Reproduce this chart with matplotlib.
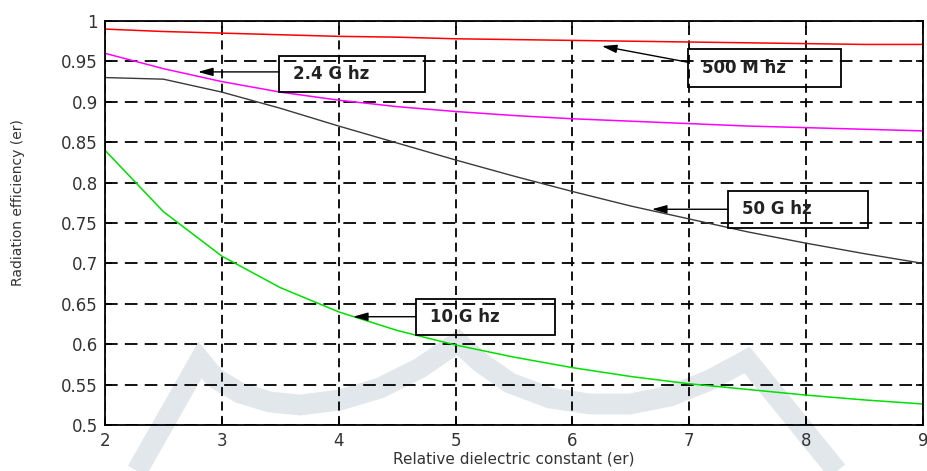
import numpy as np
import matplotlib
matplotlib.use('Agg')
import matplotlib.pyplot as plt
from matplotlib.patches import Rectangle
from matplotlib.lines import Line2D

# relative dielectric constant
er = [2, 2.5, 3, 3.5, 4, 4.5, 5, 5.5, 6, 6.5, 7, 7.5, 8, 8.5, 9]

# radiation efficiency for each frequency
eff_500m = [0.990, 0.987, 0.985, 0.983, 0.981, 0.980, 0.978, 0.977, 0.976, 0.975, 0.974, 0.973, 0.972, 0.971, 0.971]
eff_2g4 = [0.960, 0.941, 0.925, 0.912, 0.902, 0.894, 0.888, 0.883, 0.879, 0.876, 0.873, 0.870, 0.868, 0.866, 0.864]
eff_50g = [0.930, 0.928, 0.912, 0.892, 0.870, 0.849, 0.828, 0.808, 0.789, 0.771, 0.755, 0.739, 0.725, 0.712, 0.700]
eff_10g = [0.840, 0.764, 0.709, 0.670, 0.640, 0.617, 0.599, 0.584, 0.571, 0.560, 0.551, 0.544, 0.537, 0.531, 0.526]

xticks = [2, 3, 4, 5, 6, 7, 8, 9]
yticks = [0.5, 0.55, 0.6, 0.65, 0.7, 0.75, 0.8, 0.85, 0.9, 0.95, 1.0]
yticklabels = ['0.5', '0.55', '0.6', '0.65', '0.7', '0.75', '0.8', '0.85', '0.9', '0.95', '1']

# label boxes: text, (x0, y0, x1, y1) of box, arrow tail, arrow tip
labels = ['2.4 G hz', '500 M hz', '50 G hz', '10 G hz']
boxes = [(3.488, 0.912, 4.737, 0.957),
         (6.987, 0.918, 8.296, 0.965),
         (7.330, 0.744, 8.527, 0.790),
         (4.660, 0.611, 5.849, 0.656)]
tails = [(3.488, 0.937), (6.987, 0.949), (7.330, 0.767), (4.660, 0.634)]
tips = [(2.795, 0.937), (6.251, 0.969), (6.679, 0.767), (4.121, 0.634)]

# faint logo in the background (figure pixels, y from top)
logo_px = [(137, 471), (200, 360), (215, 378), (240, 393), (270, 402), (300, 405),
           (340, 400), (380, 388), (420, 368), (458, 342), (480, 362), (510, 383),
           (550, 398), (590, 404), (630, 404), (670, 396), (710, 380), (747, 360),
           (837, 471)]

W, H = 927, 471
fig = plt.figure(figsize=(W / 100, H / 100), dpi=100)
ax = fig.add_axes([105 / W, 46 / H, 818 / W, 404 / H])

wm = '#e2e7ec'
lx = [p[0] / W for p in logo_px]
ly = [1 - p[1] / H for p in logo_px]
ax.add_line(Line2D(lx, ly, transform=fig.transFigure, color=wm, lw=15,
                   solid_joinstyle='miter', solid_capstyle='butt', clip_on=False, zorder=1))

ax.plot(er, eff_500m, color='#ff0000', lw=1.1, zorder=2)
ax.plot(er, eff_2g4, color='#ff00ff', lw=1.1, zorder=2)
ax.plot(er, eff_50g, color='#3a3a3a', lw=1.0, zorder=2)
ax.plot(er, eff_10g, color='#00e000', lw=1.1, zorder=2)

for txt, b, t0, t1 in zip(labels, boxes, tails, tips):
    ax.add_patch(Rectangle((b[0], b[1]), b[2] - b[0], b[3] - b[1], fill=False,
                           edgecolor='black', lw=1.3, zorder=3))
    ax.text(b[0] + 0.12, (b[1] + b[3]) / 2, txt, fontsize=12, fontweight='bold',
            ha='left', va='center', color='#222222', zorder=4)
    ax.annotate('', xy=t1, xytext=t0,
                arrowprops=dict(arrowstyle='-|>,head_length=0.9,head_width=0.25',
                                color='black', lw=1.0, shrinkA=0, shrinkB=0), zorder=4)

ax.set_xlim(2, 9)
ax.set_ylim(0.5, 1.0)
ax.set_xticks(xticks)
ax.set_yticks(yticks)
ax.set_yticklabels(yticklabels)
ax.xaxis.grid(True, color='black', linestyle=(0, (5, 3)), lw=1.3)
ax.yaxis.grid(True, color='black', linestyle=(0, (7, 4)), lw=1.3)
ax.tick_params(direction='in', top=True, right=True, length=5, width=1.2,
               labelsize=12, pad=5)
for lab in ax.get_xticklabels() + ax.get_yticklabels():
    lab.set_color('#333333')
for s in ax.spines.values():
    s.set_linewidth(1.3)

ax.set_xlabel('Relative dielectric constant (er)', fontsize=11, color='#333333', labelpad=1)
ax.set_ylabel('Radiation efficiency (er)', fontsize=10, color='#333333')
ax.yaxis.set_label_coords(-0.098, 0.55)

fig.savefig('out.png', dpi=100)
